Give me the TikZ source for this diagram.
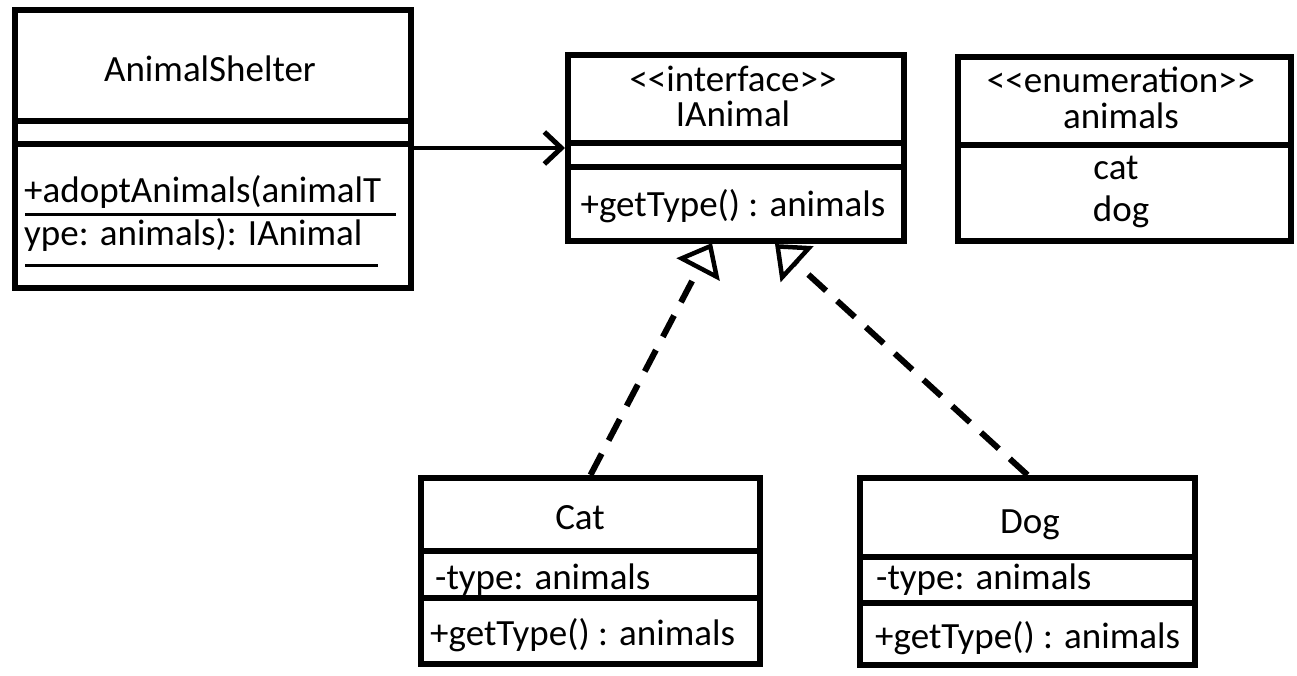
\documentclass[tikz,border=0pt]{standalone}
\usepackage{fontspec}
\setmainfont{Carlito}
\usetikzlibrary{arrows.meta}

\begin{document}
\begin{tikzpicture}[x=1pt, y=-1pt,
  every node/.style={font=\fontsize{37}{40}\selectfont, inner sep=0pt},
  classbox/.style={draw, line width=6pt, anchor=north west},
  divline/.style={line width=6pt},
  uline/.style={line width=3pt},
  assoc/.style={line width=4pt, -{Straight Barb[length=17pt, width=32pt, line width=5pt]}},
  realize/.style={line width=6pt, dash pattern=on 24pt off 15pt,
    -{Triangle[open, length=30pt, width=48pt, line width=4.5pt]}}]
  \useasboundingbox (0,0) rectangle (1297,676);

  % AnimalShelter
  \node[classbox, minimum width=396pt, minimum height=278pt] (shelter) at (12,7) {};
  \draw[divline] (12,121) -- (408,121);
  \draw[divline] (12,144) -- (408,144);
  \node[anchor=base] (shelterName) at (210,82) {AnimalShelter};
  \node[anchor=base west] (adoptA) at (24,203) {+adoptAnimals(animalT};
  \node[anchor=base west] (adoptB) at (24,246) {ype: animals): IAnimal};
  \draw[uline] (25,215) -- (396,215);
  \draw[uline] (25,265) -- (378,265);

  % IAnimal interface
  \node[classbox, minimum width=336pt, minimum height=186pt] (ianimal) at (565,52) {};
  \draw[divline] (565,143) -- (901,143);
  \draw[divline] (565,167) -- (901,167);
  \node[anchor=base] (ianimalStereo) at (733,92) {<{}<interface>{}>};
  \node[anchor=base] (ianimalName) at (733,127) {IAnimal};
  \node[anchor=base] (ianimalOp) at (733,217) {+getType() : animals};

  % animals enumeration
  \node[classbox, minimum width=333pt, minimum height=184pt] (animalsEnum) at (955,54) {};
  \draw[divline] (955,145) -- (1288,145);
  \node[anchor=base] (enumStereo) at (1121,93) {<{}<enumeration>{}>};
  \node[anchor=base] (enumName) at (1121,129) {animals};
  \node[anchor=base] (enumCat) at (1116,180) {cat};
  \node[anchor=base] (enumDog) at (1121,222) {dog};

  % Cat
  \node[classbox, minimum width=339pt, minimum height=186pt] (cat) at (418,475) {};
  \draw[divline] (418,551) -- (757,551);
  \draw[divline] (418,598) -- (757,598);
  \node[anchor=base] (catName) at (580,529) {Cat};
  \node[anchor=base west] (catAttr) at (435,589) {-type: animals};
  \node[anchor=base west] (catOp) at (430,645) {+getType() : animals};

  % Dog
  \node[classbox, minimum width=335pt, minimum height=187pt] (dog) at (857,475) {};
  \draw[divline] (857,557) -- (1192,557);
  \draw[divline] (857,603) -- (1192,603);
  \node[anchor=base] (dogName) at (1030,533) {Dog};
  \node[anchor=base west] (dogAttr) at (876,589) {-type: animals};
  \node[anchor=base west] (dogOp) at (875,648) {+getType() : animals};

  % Relations
  \coordinate (catTip) at (712,243);
  \coordinate (dogTip) at (775,244);
  \draw[assoc] (shelter.east |- ianimal.west) -- (ianimal.west);
  \draw[realize] (cat.north) -- (catTip);
  \draw[realize] (dog.north) -- (dogTip);
\end{tikzpicture}
\end{document}
